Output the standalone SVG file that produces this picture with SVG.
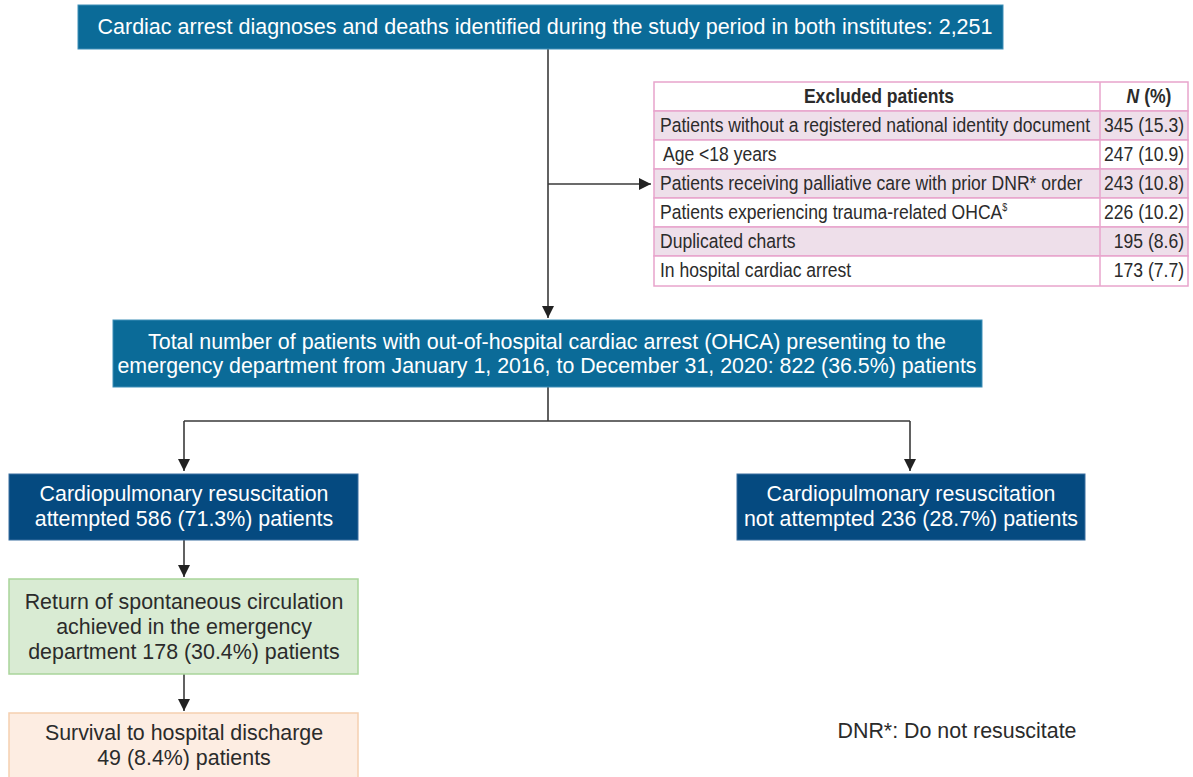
<svg xmlns="http://www.w3.org/2000/svg" width="1193" height="777" viewBox="0 0 1193 777">
<style>
.t{font-family:"Liberation Sans",Arial,sans-serif;font-size:21.4px;text-anchor:middle}
.w{fill:#ffffff}
.d{fill:#2b2b2b}
.tb{font-family:"Liberation Sans",Arial,sans-serif;font-size:19.5px;fill:#2b2b2b}
.e{text-anchor:end}
.m{text-anchor:middle;font-weight:bold}
.c{fill:none;stroke:#3a3a3a;stroke-width:1.6}
.cell{stroke:#e8a4cc;stroke-width:1.5}
</style>
<defs>
<marker id="ah" viewBox="0 0 10 10" refX="10" refY="5" markerWidth="12" markerHeight="12" markerUnits="userSpaceOnUse" orient="auto">
<path d="M0,0 L10,5 L0,10 Z" fill="#222"/>
</marker>
</defs>
<rect width="1193" height="777" fill="#ffffff"/>
<g id="connectors">
<path class="c" d="M548,49 V318" marker-end="url(#ah)"/>
<path class="c" d="M548,184 H651" marker-end="url(#ah)"/>
<path class="c" d="M548,387 V421 M184,421 H910"/>
<path class="c" d="M184,421 V471" marker-end="url(#ah)"/>
<path class="c" d="M910,421 V471" marker-end="url(#ah)"/>
<path class="c" d="M184,540 V577" marker-end="url(#ah)"/>
<path class="c" d="M184,674 V711" marker-end="url(#ah)"/>
</g>
<g id="n-top">
<rect x="78" y="5" width="925" height="44" fill="#0b6b98" stroke="#3f8fb8" stroke-width="1"/>
<text class="t w" x="545" y="34" textLength="895" lengthAdjust="spacingAndGlyphs">Cardiac arrest diagnoses and deaths identified during the study period in both institutes: 2,251</text>
</g>
<g id="n-excluded">
<rect class="cell" x="654" y="82" width="534" height="29" fill="#ffffff"/>
<rect class="cell" x="654" y="111" width="534" height="29" fill="#eedfea"/>
<rect class="cell" x="654" y="140" width="534" height="29" fill="#ffffff"/>
<rect class="cell" x="654" y="169" width="534" height="29" fill="#eedfea"/>
<rect class="cell" x="654" y="198" width="534" height="29" fill="#ffffff"/>
<rect class="cell" x="654" y="227" width="534" height="29" fill="#eedfea"/>
<rect class="cell" x="654" y="256" width="534" height="30" fill="#ffffff"/>
<line class="cell" x1="1100" y1="82" x2="1100" y2="286"/>
<text class="tb m" transform="translate(879,103) scale(0.9,1)">Excluded patients</text>
<text class="tb m" transform="translate(1149,103) scale(0.9,1)"><tspan font-style="italic">N</tspan> (%)</text>
<text class="tb" transform="translate(660,132) scale(0.9,1)">Patients without a registered national identity document</text>
<text class="tb" transform="translate(663,161) scale(0.9,1)">Age &lt;18 years</text>
<text class="tb" transform="translate(660,190) scale(0.9,1)">Patients receiving palliative care with prior DNR* order</text>
<text class="tb" transform="translate(660,219) scale(0.9,1)">Patients experiencing trauma-related OHCA<tspan font-size="10" dy="-8">$</tspan></text>
<text class="tb" transform="translate(660,248) scale(0.9,1)">Duplicated charts</text>
<text class="tb" transform="translate(660,277) scale(0.9,1)">In hospital cardiac arrest</text>
<text class="tb e" transform="translate(1184,132) scale(0.9,1)">345 (15.3)</text>
<text class="tb e" transform="translate(1184,161) scale(0.9,1)">247 (10.9)</text>
<text class="tb e" transform="translate(1184,190) scale(0.9,1)">243 (10.8)</text>
<text class="tb e" transform="translate(1184,219) scale(0.9,1)">226 (10.2)</text>
<text class="tb e" transform="translate(1184,248) scale(0.9,1)">195 (8.6)</text>
<text class="tb e" transform="translate(1184,277) scale(0.9,1)">173 (7.7)</text>
</g>
<g id="n-total">
<rect x="113" y="320" width="869" height="67" fill="#0b6b98" stroke="#3f8fb8" stroke-width="1"/>
<text class="t w" x="547" y="349" font-size="21" textLength="798" lengthAdjust="spacingAndGlyphs">Total number of patients with out-of-hospital cardiac arrest (OHCA) presenting to the</text>
<text class="t w" x="547" y="373" font-size="21" textLength="859" lengthAdjust="spacingAndGlyphs">emergency department from January 1, 2016, to December 31, 2020: 822 (36.5%) patients</text>
</g>
<g id="n-cpr-yes">
<rect x="9" y="474" width="349" height="66" fill="#054a80" stroke="#3a6fa0" stroke-width="1"/>
<text class="t w" x="184" y="501">Cardiopulmonary resuscitation</text>
<text class="t w" x="184" y="526">attempted 586 (71.3%) patients</text>
</g>
<g id="n-cpr-no">
<rect x="737" y="474" width="348" height="66" fill="#054a80" stroke="#3a6fa0" stroke-width="1"/>
<text class="t w" x="911" y="501">Cardiopulmonary resuscitation</text>
<text class="t w" x="911" y="526">not attempted 236 (28.7%) patients</text>
</g>
<g id="n-rosc">
<rect x="9" y="579" width="349" height="95" fill="#d9ebd3" stroke="#a9d59b" stroke-width="1.5"/>
<text class="t d" x="184" y="609">Return of spontaneous circulation</text>
<text class="t d" x="184" y="634">achieved in the emergency</text>
<text class="t d" x="184" y="659">department 178 (30.4%) patients</text>
</g>
<g id="n-survival">
<rect x="9" y="713" width="349" height="70" fill="#fdede2" stroke="#f5cfb0" stroke-width="1.5"/>
<text class="t d" x="184" y="740">Survival to hospital discharge</text>
<text class="t d" x="184" y="765">49 (8.4%) patients</text>
</g>
<g id="note">
<text class="t d" x="957" y="738">DNR*: Do not resuscitate</text>
</g>
</svg>
